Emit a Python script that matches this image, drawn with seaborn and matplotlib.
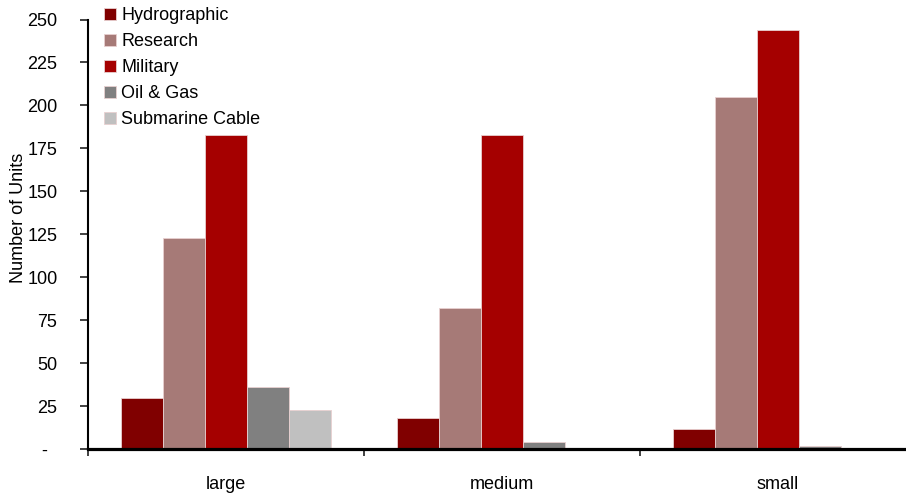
import matplotlib
matplotlib.use("Agg")
import matplotlib.pyplot as plt
import seaborn as sns
import pandas as pd
import numpy as np

categories = ["large", "medium", "small"]
series = ["Hydrographic", "Research", "Military", "Oil & Gas", "Submarine Cable"]
hydrographic = [30, 18, 12]
research = [123, 82, 205]
military = [183, 183, 244]
oil_gas = [36, 4, 2]
submarine_cable = [23, 0, 0]
yticks = [0, 25, 50, 75, 100, 125, 150, 175, 200, 225, 250]
ytick_labels = ["-  ", "25", "50", "75", "100", "125", "150", "175", "200", "225", "250"]
colors = ["#800000", "#A67A77", "#A50000", "#808080", "#C0C0C0"]

values = [hydrographic, research, military, oil_gas, submarine_cable]
rows = []
for s, vals in zip(series, values):
    for c, v in zip(categories, vals):
        rows.append({"category": c, "type": s, "units": v})
df = pd.DataFrame(rows)

sns.set_style("white")
plt.rcParams["font.family"] = ["Liberation Sans", "DejaVu Sans"]
plt.rcParams["text.color"] = "black"
plt.rcParams["axes.labelcolor"] = "black"
plt.rcParams["xtick.color"] = "black"
plt.rcParams["ytick.color"] = "black"

FS = 13

fig = plt.figure(figsize=(9.06, 4.93), dpi=100)
ax = fig.add_axes([88 / 906, 1 - 449.3 / 493, (916 - 88) / 906, (449.3 - 19.5) / 493])

sns.barplot(data=df, x="category", y="units", hue="type", order=categories,
            hue_order=series, palette=colors, width=0.76, ax=ax,
            edgecolor="#e8d0d0", linewidth=0.6, saturation=1, errorbar=None)

ax.set_xlim(-0.5, 2.5)
ax.set_ylim(0, 250)
ax.set_yticks(yticks)
ax.set_yticklabels(ytick_labels)
ax.tick_params(axis="y", direction="out", length=6, width=1.3, color="#333333",
               labelcolor="black", labelsize=FS, pad=16, left=True)

# major ticks at category boundaries, labels at centers
ax.set_xticks([-0.5, 0.5, 1.5, 2.5])
ax.set_xticklabels([])
ax.set_xticks([0, 1, 2], minor=True)
ax.set_xticklabels(categories, minor=True)
ax.tick_params(axis="x", which="major", direction="out", length=5, width=1.3,
               color="#333333", bottom=True)
ax.tick_params(axis="x", which="minor", length=0, labelsize=FS, labelcolor="black", pad=19)
ax.set_xlabel("")

ax.set_ylabel("Number of Units", fontsize=FS, color="black")
ax.yaxis.set_label_coords(-(88 - 27) / 828, (449.3 - 218) / 430)

for side in ["top", "right"]:
    ax.spines[side].set_visible(False)
ax.spines["left"].set_linewidth(1.5)
ax.spines["left"].set_color("black")
ax.spines["bottom"].set_linewidth(2.3)
ax.spines["bottom"].set_color("black")

handles, labels = ax.get_legend_handles_labels()
leg = ax.legend(handles, labels, loc="upper left", bbox_to_anchor=(104 / 906, 1 - 7 / 493),
                bbox_transform=fig.transFigure, frameon=False, fontsize=FS,
                handlelength=0.65, handleheight=0.65, handletextpad=0.3,
                labelspacing=0.5, borderpad=0, borderaxespad=0)
for t in leg.get_texts():
    t.set_color("black")

fig.savefig("out.png", dpi=100)
